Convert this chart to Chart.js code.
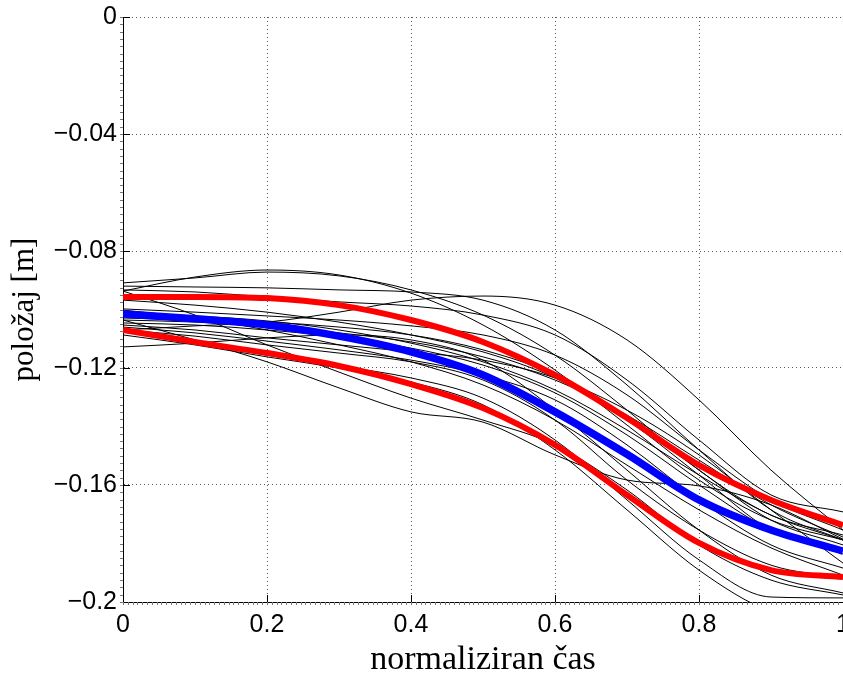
<!DOCTYPE html>
<html>
<head>
<meta charset="utf-8">
<script src="https://cdn.jsdelivr.net/npm/chart.js@4.4.1/dist/chart.umd.min.js"></script>
<style>
  html, body { margin: 0; padding: 0; background: #fff; }
  #wrap { width: 843px; height: 673px; }
</style>
</head>
<body>
<div id="wrap"><canvas id="c" width="843" height="673"></canvas></div>
<script>
// normalised time samples
const xs = [0, 0.1, 0.2, 0.3, 0.4, 0.5, 0.6, 0.7, 0.8, 0.9, 1];
const xTicks = [0, 0.2, 0.4, 0.6, 0.8, 1];
const yTicks = [0, -0.04, -0.08, -0.12, -0.16, -0.2];

// mean and mean +/- std
const meanPos  = [-0.1015, -0.1032, -0.1053, -0.1091, -0.1145, -0.1224, -0.1350, -0.1495, -0.1651, -0.1754, -0.1826];
const upperPos = [-0.0957, -0.0957, -0.0961, -0.0985, -0.1036, -0.1111, -0.1224, -0.1371, -0.1532, -0.1651, -0.1737];
const lowerPos = [-0.1070, -0.1111, -0.1149, -0.1193, -0.1255, -0.1337, -0.1463, -0.1634, -0.1798, -0.1891, -0.1915];

// individual trials
const trial01 = [-0.0920, -0.0923, -0.0926, -0.0933, -0.0940, -0.0968, -0.1070, -0.1258, -0.1480, -0.1685, -0.1788];
const trial02 = [-0.0937, -0.0889, -0.0865, -0.0882, -0.0944, -0.1053, -0.1207, -0.1395, -0.1583, -0.1720, -0.1788];
const trial03 = [-0.0909, -0.0892, -0.0872, -0.0885, -0.0933, -0.1019, -0.1156, -0.1344, -0.1549, -0.1703, -0.1771];
const trial04 = [-0.0933, -0.0940, -0.0957, -0.0974, -0.0988, -0.1019, -0.1087, -0.1241, -0.1446, -0.1634, -0.1692];
const trial05 = [-0.1070, -0.1056, -0.1043, -0.1009, -0.0968, -0.0954, -0.0985, -0.1104, -0.1309, -0.1549, -0.1754];
const trial06 = [-0.0998, -0.1009, -0.1022, -0.1036, -0.1056, -0.1087, -0.1156, -0.1292, -0.1480, -0.1651, -0.1754];
const trial07 = [-0.1012, -0.1022, -0.1039, -0.1070, -0.1115, -0.1179, -0.1275, -0.1412, -0.1566, -0.1703, -0.1788];
const trial08 = [-0.1036, -0.1043, -0.1056, -0.1080, -0.1111, -0.1162, -0.1241, -0.1361, -0.1515, -0.1668, -0.1778];
const trial09 = [-0.1046, -0.1053, -0.1070, -0.1094, -0.1132, -0.1190, -0.1285, -0.1429, -0.1600, -0.1754, -0.1836];
const trial10 = [-0.1053, -0.1070, -0.1097, -0.1121, -0.1145, -0.1173, -0.1234, -0.1344, -0.1497, -0.1685, -0.1867];
const trial11 = [-0.1060, -0.1080, -0.1108, -0.1138, -0.1173, -0.1224, -0.1309, -0.1463, -0.1651, -0.1805, -0.1884];
const trial12 = [-0.1070, -0.1091, -0.1121, -0.1149, -0.1179, -0.1241, -0.1378, -0.1583, -0.1754, -0.1874, -0.1918];
const trial13 = [-0.1128, -0.1115, -0.1097, -0.1087, -0.1104, -0.1173, -0.1344, -0.1549, -0.1754, -0.1908, -0.1969];
const trial14 = [-0.0937, -0.1019, -0.1121, -0.1214, -0.1303, -0.1378, -0.1463, -0.1617, -0.1805, -0.1925, -0.1976];
const trial15 = [-0.1036, -0.1104, -0.1179, -0.1268, -0.1350, -0.1385, -0.1497, -0.1583, -0.1603, -0.1668, -0.1785];
const trial16 = [-0.1077, -0.1115, -0.1156, -0.1193, -0.1234, -0.1303, -0.1446, -0.1651, -0.1856, -0.1983, -0.1986];
const trial17 = [-0.1087, -0.1121, -0.1162, -0.1200, -0.1248, -0.1326, -0.1480, -0.1685, -0.1891, -0.2034, -0.2079];
const trial18 = [-0.1002, -0.1029, -0.1070, -0.1121, -0.1179, -0.1258, -0.1378, -0.1532, -0.1685, -0.1815, -0.1908];
const trial19 = [-0.0968, -0.0985, -0.1009, -0.1043, -0.1087, -0.1145, -0.1234, -0.1378, -0.1566, -0.1754, -0.1822];
const trial20 = [-0.1029, -0.1036, -0.1043, -0.1060, -0.1087, -0.1138, -0.1224, -0.1371, -0.1549, -0.1720, -0.1805];

const trials = [trial01, trial02, trial03, trial04, trial05, trial06, trial07, trial08, trial09, trial10,
                trial11, trial12, trial13, trial14, trial15, trial16, trial17, trial18, trial19, trial20];

function toPoints(ys) {
  return ys.map((y, i) => ({ x: xs[i], y: y }));
}

function lineSet(ys, color, width) {
  return {
    data: toPoints(ys),
    borderColor: color,
    borderWidth: width,
    pointRadius: 0,
    fill: false,
    cubicInterpolationMode: 'monotone',
  };
}

// first dataset is drawn on top
const datasets = [
  lineSet(meanPos, '#0000ff', 7.5),
  lineSet(upperPos, '#ff0000', 6),
  lineSet(lowerPos, '#ff0000', 6),
  ...trials.map(t => lineSet(t, '#000000', 1)),
];

// MATLAB-like inward major ticks and small minor ticks
const tickMarks = {
  id: 'tickMarks',
  afterDraw(chart) {
    const { ctx, chartArea: a, scales: { x, y } } = chart;
    ctx.save();
    ctx.lineWidth = 1;
    ctx.strokeStyle = '#000';
    ctx.beginPath();
    xTicks.forEach(v => {
      const px = Math.round(x.getPixelForValue(v)) + 0.5;
      ctx.moveTo(px, a.bottom);
      ctx.lineTo(px, a.bottom - 7);
    });
    yTicks.forEach(v => {
      const py = Math.round(y.getPixelForValue(v)) + 0.5;
      ctx.moveTo(a.left, py);
      ctx.lineTo(a.left + 7, py);
    });
    ctx.stroke();

    ctx.strokeStyle = '#777';
    ctx.beginPath();
    for (let i = 0; i <= 150; i++) {
      const px = Math.round(x.getPixelForValue(i / 150)) + 0.5;
      ctx.moveTo(px, a.bottom);
      ctx.lineTo(px, a.bottom + 3);
    }
    for (let i = 0; i <= 80; i++) {
      const py = Math.round(y.getPixelForValue(-i * 0.0025)) + 0.5;
      ctx.moveTo(a.left, py);
      ctx.lineTo(a.left - 3, py);
    }
    ctx.stroke();
    ctx.restore();
  }
};

const gridOpts = { color: 'rgba(0,0,0,0.65)', lineWidth: 1, drawTicks: false };
const borderOpts = { display: true, color: '#000', width: 1, dash: [1, 3] };

new Chart(document.getElementById('c'), {
  type: 'line',
  data: { datasets },
  plugins: [tickMarks],
  options: {
    responsive: false,
    animation: false,
    layout: { padding: { top: 17, left: 0, right: 0, bottom: 0 } },
    plugins: { legend: { display: false }, tooltip: { enabled: false } },
    scales: {
      x: {
        type: 'linear',
        min: 0,
        max: 1,
        grid: gridOpts,
        border: borderOpts,
        afterBuildTicks: s => { s.ticks = xTicks.map(v => ({ value: v })); },
        afterFit: s => { s.height = 71; s.paddingLeft = 0; s.paddingRight = 0; },
        ticks: {
          padding: 8,
          color: '#000',
          maxRotation: 0,
          autoSkip: false,
          font: { family: 'Liberation Sans', size: 25 },
          callback: v => String(v),
        },
        title: {
          display: true,
          text: 'normaliziran čas',
          color: '#000',
          font: { family: 'Liberation Serif', size: 34, lineHeight: 1 },
          padding: { top: 0, bottom: -4 },
        },
      },
      y: {
        type: 'linear',
        min: -0.2,
        max: 0,
        grid: gridOpts,
        border: borderOpts,
        afterBuildTicks: s => { s.ticks = yTicks.map(v => ({ value: v })); },
        afterFit: s => { s.width = 123; s.paddingTop = 0; s.paddingBottom = 0; },
        ticks: {
          padding: 6,
          color: '#000',
          autoSkip: false,
          font: { family: 'Liberation Sans', size: 25 },
          callback: v => (v === 0 ? '0' : '\u2212' + String(Math.abs(v))),
        },
        title: {
          display: true,
          text: 'položaj [m]',
          color: '#000',
          font: { family: 'Liberation Serif', size: 31, lineHeight: 1 },
          padding: { top: 9, bottom: 0 },
        },
      },
    },
  },
});
</script>
</body>
</html>
